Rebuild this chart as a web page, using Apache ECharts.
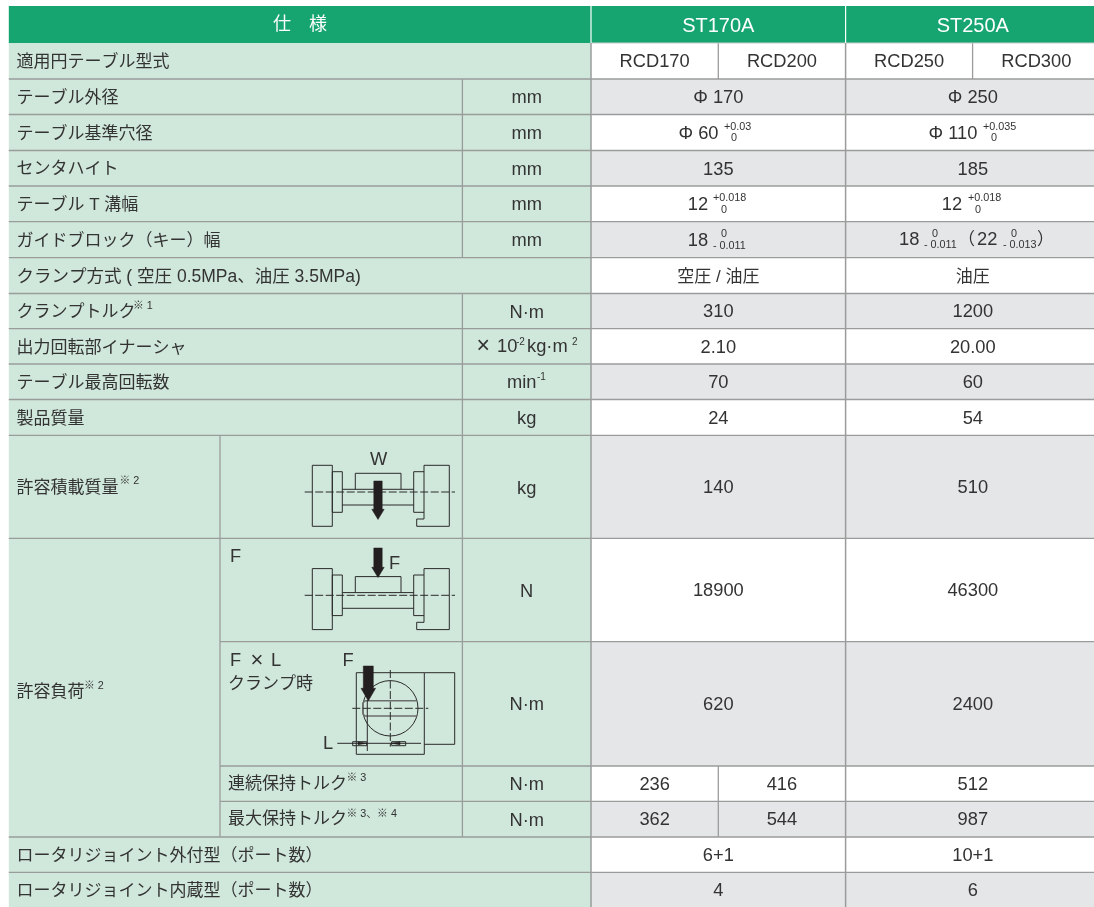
<!DOCTYPE html>
<html lang="ja"><head><meta charset="utf-8">
<style>html,body{margin:0;padding:0;background:#fff}#c{width:1094px;height:907px}</style>
<script src="https://cdn.jsdelivr.net/npm/echarts@6/dist/echarts.min.js"></script>
</head><body><div id="c"></div>
<script>
// ---------- table content ----------
const headerLabels = ['仕　様', 'ST170A', 'ST250A'];
const specLabels = ['適用円テーブル型式','テーブル外径','テーブル基準穴径','センタハイト','テーブル T 溝幅','ガイドブロック（キー）幅',
  'クランプ方式 ( 空圧 0.5MPa、油圧 3.5MPa)','クランプトルク','出力回転部イナーシャ','テーブル最高回転数','製品質量',
  '許容積載質量','許容負荷','','','','ロータリジョイント外付型（ポート数）','ロータリジョイント内蔵型（ポート数）'];
const subLabels = {13:['F'], 14:['F','×','L','クランプ時'], 15:['連続保持トルク'], 16:['最大保持トルク']};
const units = ['','mm','mm','mm','mm','mm','','N·m','','','kg','kg','N','N·m','N·m','N·m','',''];
const st170Values = [['RCD170','RCD200'],'Φ 170','Φ 60','135','12','18','空圧 / 油圧','310','2.10','70','24','140','18900','620',['236','416'],['362','544'],'6+1','4'];
const st250Values = [['RCD250','RCD300'],'Φ 250','Φ 110','185','12','','油圧','1200','20.00','60','54','510','46300','2400','512','987','10+1','6'];
</script>
<script>
// ---------- layout of the table grid ----------
const colEdges = {left:8.8, a:220, b:462.4, c:591, d:718.3, e:845.6, f:972.6, right:1100};
const rowEdges = [43,79,114.5,150.5,186,221.7,257.7,293.5,328.7,364,399.5,435.3,538.3,641.7,766,801.3,837,872.3,907];
const topEdge = 6;
const HEAD='#16a571', GREEN='#d0e7db', GREY='#e5e6e8', WHITE='#ffffff', LINE='#9a9c9c', INK='#333333';
const FONT='"Liberation Sans","Noto Sans CJK JP",sans-serif';
const J=17, N=18.3;
const mergedLabelRows=[0,6,16,17];      // label spans to the value columns
const rows=specLabels.length;

const cells=[], lines=[], texts=[];
const T=(t,x,y,size=N,align='left',fill=INK)=>texts.push({t,x,y:y+1,size,align,fill});
const L=(x0,y0,x1,y1,c=LINE,w=1.3)=>lines.push({p:[x0,y0,x1,y1],c,w});
const {left,a,b,c,d,e,f,right}=colEdges;

// header
cells.push({r:[left,topEdge,right,43],fill:HEAD});
T(headerLabels[0],(left+c)/2,24.5,18,'center','#fff');
T(headerLabels[1],(c+e)/2,25,20,'center','#fff');
T(headerLabels[2],(e+right)/2,25,20,'center','#fff');

// body
cells.push({r:[left,43,c,907],fill:GREEN});
const mainShift={2:[698.5,953],4:[698,952],5:[698,null]};
for(let i=0;i<rows;i++){
  const y0=rowEdges[i], y1=rowEdges[i+1], m=(y0+y1)/2;
  cells.push({r:[c,y0,right,y1],fill:i%2===0?WHITE:GREY});
  // labels
  if(specLabels[i]){
    const yy = i===11?487 : i===12?691 : m+0.5;
    T(specLabels[i],16.5,yy,i===6?17.5:J);
  }
  if(units[i]) T(units[i],(b+c)/2,i===11?487.5:m+0.5,N,'center');
  // values
  const put=(v,lo,mid,hi,shiftX)=>{
    if(Array.isArray(v)){
      const cx=(lo+mid)/2, cy=(mid+hi)/2;
      T(v[0],cx,m+0.3,N,'center'); T(v[1],cy,m+0.3,N,'center');
      L(mid,y0,mid,y1);
    }else if(v){ T(v,shiftX||(lo+hi)/2,m+0.3,/[^\x00-\xff]/.test(v)&&!/Φ/.test(v)?J:N,'center'); }
  };
  const s=mainShift[i]||[];
  put(st170Values[i],c,d,e,s[0]);
  put(st250Values[i],e,f,right,s[1]);
  // horizontal rule below the row
  if(i<rows-1){
    const skipLeft = i===12||i===13||i===14;
    L(skipLeft?a:left,y1,right,y1);
  }
}
L(c,43,right,43,'#c9cbca',1);
// verticals
L(c,43,c,907,LINE,1.5); L(e,43,e,907,LINE,1.5);
L(c,topEdge,c,43,'#ffffff',1.2); L(e,topEdge,e,43,'#ffffff',1.2);
L(a,rowEdges[11],a,rowEdges[16]);
for(let i=0;i<rows;i++) if(!mergedLabelRows.includes(i)) L(b,rowEdges[i],b,rowEdges[i+1]);

// sub labels of the load rows
T(subLabels[13][0],230,556,N);
T(subLabels[14][0],230,660,N);
T(subLabels[14][1],250.5,659.5,22);
T(subLabels[14][2],271,660,N);
T(subLabels[14][3],228,683,J);
T(subLabels[15][0],228,783,J);
T(subLabels[16][0],228,818.5,J);

// reference notes, tolerances and exponents
const S=10.8;
T('※ 1',133,305.5,S); T('※ 2',119.5,480,S); T('※ 2',84,685,S);
T('※ 3',346.5,777,S); T('※ 3、※ 4',346.5,813,S);
T('×',476.5,346,23); T('10',497,346,N); T('-2',516,341,10); T('kg·m',527,346,N); T('2',572,341,10);
T('min',507,382,N); T('-1',537,376,10);
T('+0.03',724,126,S); T('0',731,137.5,S);
T('+0.035',983,126,S); T('0',991,137.5,S);
T('+0.018',713,197,S); T('0',721,209,S);
T('+0.018',968,197,S); T('0',975,209,S);
T('0',721,233,S); T('- 0.011',713,245,S);
T('18',899,239,N); T('0',932,233,S); T('- 0.011',924,244,S);
T('（',958,239,J); T('22',977,239,N); T('0',1011,233,S); T('- 0.013',1003,244,S); T('）',1037,239,J);
T('W',370,459,N); T('F',389,563,N); T('F',342.5,659.5,N); T('L',323,743,N);

// schematic drawings
const dy=103.3;
const fixture=o=>[
  {pts:[[312.3,465.3+o],[332.3,465.3+o],[332.3,526.3+o],[312.3,526.3+o]],close:true},
  {pts:[[332.3,471.7+o],[342.3,471.7+o],[342.3,512.3+o],[332.3,512.3+o]],close:true},
  {pts:[[424,465.3+o],[449.3,465.3+o],[449.3,526.3+o],[416.7,526.3+o],[416.7,519+o],[424,519+o]],close:true},
  {pts:[[424,471.7+o],[413.7,471.7+o],[413.7,512.3+o],[424,512.3+o]]},
  {pts:[[342.3,489.3+o],[413.7,489.3+o]]},{pts:[[342.3,505+o],[413.7,505+o]]},
  {pts:[[355.3,489.3+o],[355.3,473.3+o],[401,473.3+o],[401,489.3+o]]},
  {pts:[[304.7,492+o],[455,492+o]],dash:[8,2.5]}];
const bigArrow=(x,y0,y1,y2,hw=4.2,hh=6.2)=>({pts:[[x-hw,y0],[x+hw,y0],[x+hw,y1],[x+hh,y1],[x,y2],[x-hh,y1],[x-hw,y1]],close:true,fill:'#231f20'});
const shapes=[
  ...fixture(0), bigArrow(378,481,509.3,519.5),
  ...fixture(dy), bigArrow(378,548,567.3,577.5),
  {pts:[[356.3,672.7],[424.3,672.7],[424.3,754.3],[356.3,754.3]],close:true},
  {pts:[[424.3,672.7],[454.7,672.7],[454.7,744.3],[424.3,744.3]]},
  {circle:[390.3,708.3,27.7]},
  {pts:[[417.3,700.7],[365,700.7],[363,703],[363,714],[365,716],[417.3,716]],w:1.6,c:'#6d6f6f'},
  {pts:[[352.3,708.3],[428.3,708.3]],dash:[8,2.5]},
  {pts:[[390.3,670],[390.3,746.7]],dash:[8,2.5]},
  {pts:[[337.3,743.3],[421,743.3]]},
  {pts:[[352.7,741.7],[366.7,741.7],[366.7,745.7],[352.7,745.7]],close:true},
  {pts:[[391.7,741.7],[405.7,741.7],[405.7,745.7],[391.7,745.7]],close:true},
  {pts:[[358,741.9],[367,743.3],[358,744.7]],close:true,fill:'#231f20'},
  {pts:[[400,741.9],[391,743.3],[400,744.7]],close:true,fill:'#231f20'},
  {pts:[[367.3,700],[367.3,751]]},
  bigArrow(368.3,666,688.3,701,5,7.3)
];

// ---------- chart ----------
const chart=echarts.init(document.getElementById('c'),null,{renderer:'canvas'});
chart.setOption({
  animation:false,
  grid:{left:0,right:0,top:0,bottom:0},
  xAxis:{type:'value',min:0,max:1094,show:false},
  yAxis:{type:'value',min:0,max:907,inverse:true,show:false},
  series:[
    {type:'custom',coordinateSystem:'cartesian2d',silent:true,clip:false,z:1,
     data:cells.map(k=>k.r),
     renderItem(p,api){
       const A=api.coord([api.value(0),api.value(1)]),B=api.coord([api.value(2),api.value(3)]);
       return {type:'rect',shape:{x:A[0],y:A[1],width:B[0]-A[0],height:B[1]-A[1]},style:{fill:cells[p.dataIndex].fill}};
     }},
    {type:'custom',coordinateSystem:'cartesian2d',silent:true,clip:false,z:2,
     data:lines.map(k=>k.p),
     renderItem(p,api){
       const A=api.coord([api.value(0),api.value(1)]),B=api.coord([api.value(2),api.value(3)]),k=lines[p.dataIndex];
       return {type:'line',shape:{x1:A[0],y1:A[1],x2:B[0],y2:B[1]},style:{stroke:k.c,lineWidth:k.w}};
     }},
    {type:'custom',coordinateSystem:'cartesian2d',silent:true,clip:false,z:3,
     data:shapes.map((s,i)=>[i,0]),
     renderItem(p,api){
       const s=shapes[p.dataIndex];
       if(s.circle){
         const C=api.coord([s.circle[0],s.circle[1]]);
         return {type:'circle',shape:{cx:C[0],cy:C[1],r:s.circle[2]},style:{fill:'none',stroke:'#2a2a2a',lineWidth:1}};
       }
       const points=s.pts.map(q=>api.coord(q));
       const fillStyle=s.fill||'none';
       return {type:s.close?'polygon':'polyline',shape:{points},
         style:{fill:fillStyle,stroke:s.fill?s.fill:(s.c||'#2a2a2a'),lineWidth:s.fill?0.5:(s.w||1),lineDash:s.dash||null}};
     }},
    {type:'custom',coordinateSystem:'cartesian2d',silent:true,clip:false,z:4,
     data:texts.map(k=>[k.x,k.y]),
     renderItem(p,api){
       const k=texts[p.dataIndex],Q=api.coord([api.value(0),api.value(1)]);
       return {type:'text',style:{text:k.t,x:Q[0],y:Q[1],align:k.align,verticalAlign:'middle',fill:k.fill,font:k.size+'px '+FONT}};
     }}
  ]
});
</script></body></html>
